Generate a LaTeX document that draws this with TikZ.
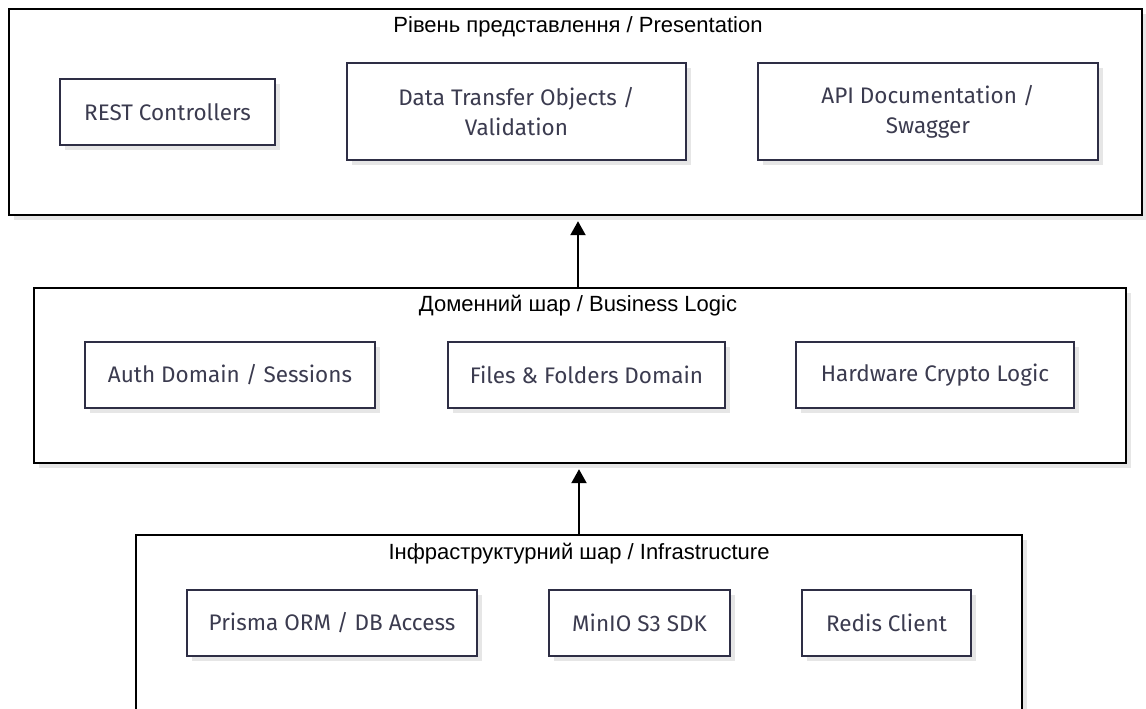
\documentclass[tikz,border=0pt]{standalone}
\usepackage{fontspec}
\setmainfont{Liberation Sans}
\newfontfamily\boxfont{Fira Sans}
\usetikzlibrary{shadows,arrows.meta}
\definecolor{boxline}{HTML}{2E2E45}
\definecolor{boxtext}{HTML}{3B3B4F}
\definecolor{shadowgrey}{HTML}{E6E6E6}
\tikzset{
  layer/.style={draw=black, line width=2.4pt, fill=white, inner sep=0pt,
    drop shadow={shadow xshift=5pt, shadow yshift=-5pt, fill=shadowgrey, opacity=1}},
  comp/.style={draw=boxline, line width=2.2pt, fill=white, text=boxtext, inner sep=0pt,
    align=center, font=\boxfont\fontsize{22.5}{30}\selectfont,
    drop shadow={shadow xshift=5pt, shadow yshift=-5pt, fill=shadowgrey, opacity=1}},
  layertitle/.style={font=\fontsize{22}{26}\selectfont, text=black, inner sep=0pt},
  flow/.style={line width=2.2pt, -{Triangle[length=14pt,width=15pt]}, shorten >=5pt}
}
\begin{document}
\begin{tikzpicture}[x=1pt, y=-1pt]
  \useasboundingbox (0,0) rectangle (1146,709);
  \clip (0,0) rectangle (1146,709);

  % Presentation layer
  \node[layer, minimum width=1133, minimum height=206] (pres) at (575.5,112) {};
  \node[layertitle] (prestitle) at (578,27) {Рівень представлення / Presentation};
  \node[comp, minimum width=215, minimum height=66] (rest) at (167.5,112) {REST Controllers};
  \node[comp, minimum width=339, minimum height=97] (dto) at (516.5,111.5) {Data Transfer Objects /\\Validation};
  \node[comp, minimum width=340, minimum height=97] (api) at (928,111.5) {API Documentation /\\Swagger};

  % Domain layer
  \node[layer, minimum width=1092, minimum height=175] (domain) at (580,375.5) {};
  \node[layertitle] (domtitle) at (578,306) {Доменний шар / Business Logic};
  \node[comp, minimum width=290, minimum height=66] (auth) at (230,375) {Auth Domain / Sessions};
  \node[comp, minimum width=277, minimum height=66] (files) at (586.5,375) {Files \& Folders Domain};
  \node[comp, minimum width=278, minimum height=66] (crypto) at (935,375) {Hardware Crypto Logic};

  % Infrastructure layer (runs past the lower edge)
  \node[layer, minimum width=886, minimum height=225] (infra) at (579,647.5) {};
  \node[layertitle] (inftitle) at (579,554) {Інфраструктурний шар / Infrastructure};
  \node[comp, minimum width=290, minimum height=66] (prisma) at (332,623) {Prisma ORM / DB Access};
  \node[comp, minimum width=181, minimum height=66] (minio) at (639.5,623) {MinIO S3 SDK};
  \node[comp, minimum width=169, minimum height=66] (redis) at (886.5,623) {Redis Client};

  % Dependencies between layers
  \coordinate (domtop) at ([xshift=-2pt]domain.north);
  \draw[flow] (domtop) -- (domtop |- pres.south);
  \draw[flow] (infra.north) -- (infra.north |- domain.south);
\end{tikzpicture}
\end{document}
